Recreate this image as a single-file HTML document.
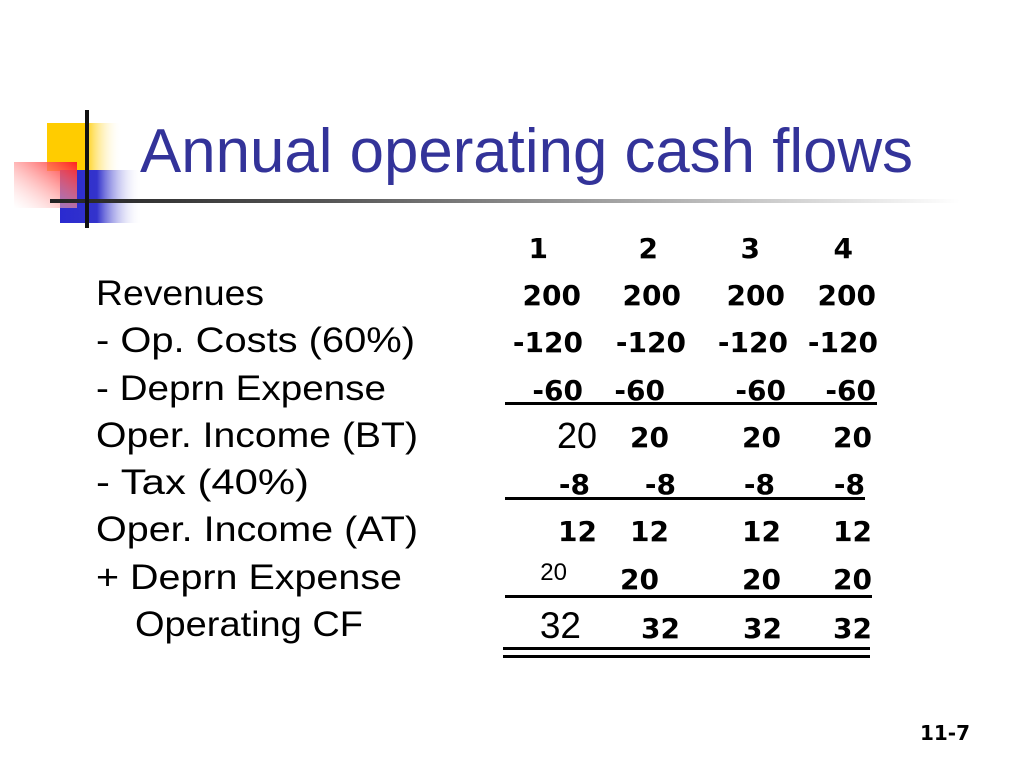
<!DOCTYPE html>
<html><head><meta charset="utf-8"><style>
html,body{margin:0;padding:0;background:#fff;width:1024px;height:768px;overflow:hidden}
svg{display:block}
.lb{font-family:"Liberation Sans",sans-serif;font-size:35px;fill:#000}
.nb{font-family:"DejaVu Sans","Liberation Sans",sans-serif;font-weight:bold;font-size:28px;fill:#000}
.nn{font-family:"Liberation Sans",sans-serif;fill:#000}
</style></head><body>
<svg width="1024" height="768">
<defs>
<linearGradient id="gy" x1="0" x2="1"><stop offset="0" stop-color="#ffcc00"/><stop offset="0.5" stop-color="#ffcc00"/><stop offset="1" stop-color="#fff" stop-opacity="0"/></linearGradient>
<linearGradient id="gr" x1="1" y1="0" x2="0" y2="1"><stop offset="0" stop-color="#ff2020"/><stop offset="1" stop-color="#fff" stop-opacity="0.3"/></linearGradient>
<linearGradient id="gb" x1="0" x2="1"><stop offset="0" stop-color="#2a2ad0"/><stop offset="0.45" stop-color="#3333cc"/><stop offset="1" stop-color="#fff" stop-opacity="0"/></linearGradient>
<linearGradient id="gl" x1="0" x2="1"><stop offset="0" stop-color="#222"/><stop offset="0.3" stop-color="#555"/><stop offset="1" stop-color="#fff"/></linearGradient>
</defs>
<g>
<rect x="47" y="123" width="75" height="48" fill="url(#gy)"/>
<rect x="60" y="170" width="82" height="53" fill="url(#gb)"/>
<rect x="14" y="162" width="63" height="46" fill="url(#gr)"/>
<rect x="50" y="199" width="910" height="4" fill="url(#gl)"/>
<rect x="85" y="110" width="4" height="118" fill="#111"/>
</g>
<text x="140" y="172" font-family="Liberation Sans, sans-serif" font-size="62" fill="#333399" textLength="773" lengthAdjust="spacingAndGlyphs">Annual operating cash flows</text>
<g>
<text class="lb" x="96" y="305" textLength="168" lengthAdjust="spacingAndGlyphs">Revenues</text>
<text class="lb" x="96" y="352" textLength="319" lengthAdjust="spacingAndGlyphs">- Op. Costs (60%)</text>
<text class="lb" x="96" y="400" textLength="290" lengthAdjust="spacingAndGlyphs">- Deprn Expense</text>
<text class="lb" x="96" y="447" textLength="322" lengthAdjust="spacingAndGlyphs">Oper. Income (BT)</text>
<text class="lb" x="96" y="494" textLength="213" lengthAdjust="spacingAndGlyphs">- Tax (40%)</text>
<text class="lb" x="96" y="541" textLength="322" lengthAdjust="spacingAndGlyphs">Oper. Income (AT)</text>
<text class="lb" x="96" y="589" textLength="306" lengthAdjust="spacingAndGlyphs">+ Deprn Expense</text>
<text class="lb" x="135" y="636" textLength="228" lengthAdjust="spacingAndGlyphs">Operating CF</text>
</g>
<g text-anchor="end">
<text class="nb" x="548" y="258">1</text><text class="nb" x="658" y="258">2</text><text class="nb" x="760" y="258">3</text><text class="nb" x="853" y="258">4</text>
<text class="nb" x="581" y="305">200</text><text class="nb" x="681" y="305">200</text><text class="nb" x="785" y="305">200</text><text class="nb" x="876" y="305">200</text>
<text class="nb" x="583" y="352">-120</text><text class="nb" x="686" y="352">-120</text><text class="nb" x="788" y="352">-120</text><text class="nb" x="878" y="352">-120</text>
<text class="nb" x="583" y="400">-60</text><text class="nb" x="665" y="400">-60</text><text class="nb" x="786" y="400">-60</text><text class="nb" x="876" y="400">-60</text>
<text class="nn" x="597" y="448" font-size="36">20</text><text class="nb" x="669" y="447">20</text><text class="nb" x="781" y="447">20</text><text class="nb" x="872" y="447">20</text>
<text class="nb" x="590" y="494">-8</text><text class="nb" x="676" y="494">-8</text><text class="nb" x="775" y="494">-8</text><text class="nb" x="865" y="494">-8</text>
<text class="nb" x="597" y="541">12</text><text class="nb" x="669" y="541">12</text><text class="nb" x="781" y="541">12</text><text class="nb" x="872" y="541">12</text>
<text class="nn" x="567" y="580" font-size="24">20</text><text class="nb" x="659" y="589">20</text><text class="nb" x="781" y="589">20</text><text class="nb" x="872" y="589">20</text>
<text class="nn" x="581" y="638" font-size="37">32</text><text class="nb" x="680" y="638">32</text><text class="nb" x="782" y="638">32</text><text class="nb" x="872" y="638">32</text>
</g>
<g fill="#000">
<rect x="505" y="402" width="372" height="3"/>
<rect x="505" y="497" width="360" height="3"/>
<rect x="505" y="595" width="367" height="3"/>
<rect x="503" y="647" width="367" height="3"/>
<rect x="503" y="655" width="367" height="3"/>
</g>
<text x="970" y="740" text-anchor="end" font-family="DejaVu Sans, sans-serif" font-weight="bold" font-size="20" fill="#000">11-7</text>
</svg>
</body></html>
